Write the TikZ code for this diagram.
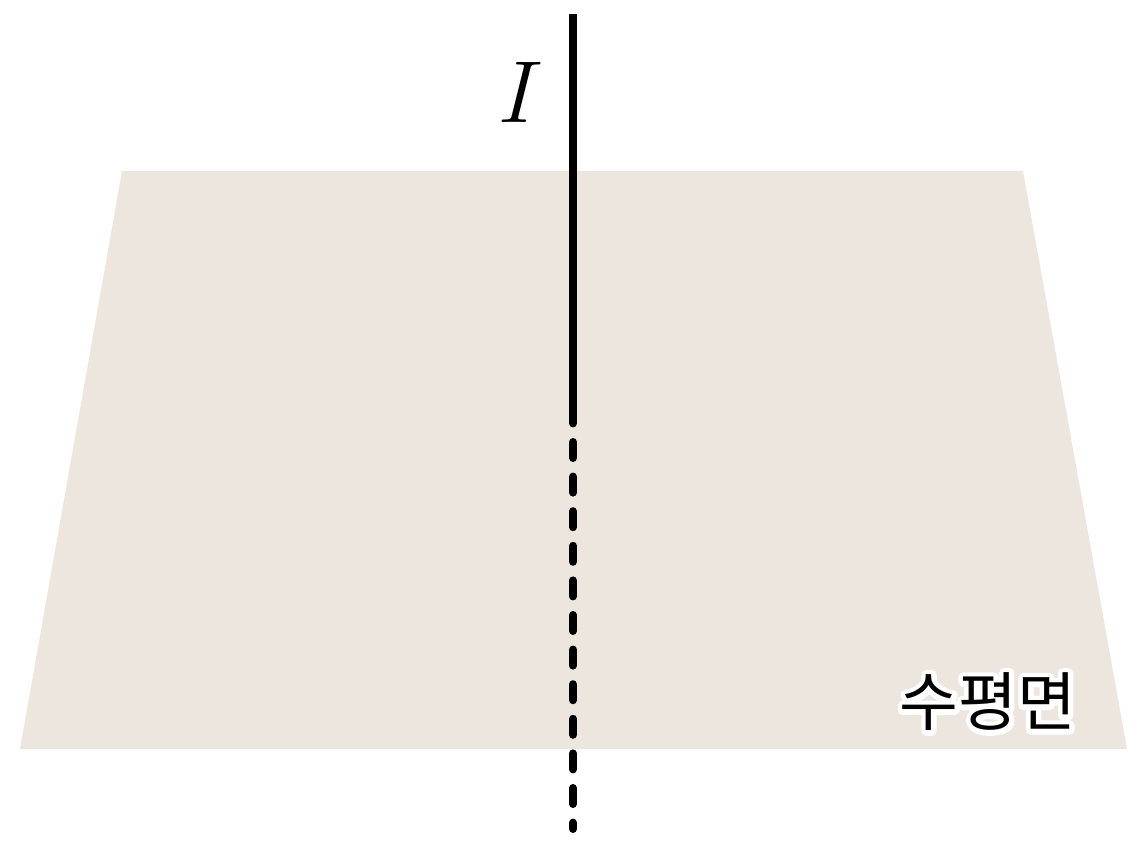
\RequirePackage{fix-cm}
\documentclass[tikz,border=0pt]{standalone}
\usepackage{fontspec}
\newfontfamily\krfont{Noto Sans CJK KR}
\definecolor{planecol}{HTML}{ECE6DF}
\newcommand{\halotext}[1]{\special{pdf:literal direct 1 Tr 5 w 1 j}#1\special{pdf:literal direct 0 Tr}}
\begin{document}
\begin{tikzpicture}[x=0.5pt,y=-0.5pt]
  \useasboundingbox (0,0) rectangle (1146,857);
  \coordinate (a) at (122,171);
  \coordinate (b) at (1023,171);
  \coordinate (c) at (1127,749);
  \coordinate (d) at (20,749);
  \coordinate (top) at (573,14);
  \coordinate (mid) at (573,413);
  \coordinate (bot) at (573,829);

  \fill[planecol] (a) -- (b) -- (c) -- (d) -- cycle;
  \draw[black,line width=4pt] (top) -- (mid);
  \draw[black,line width=4pt,line cap=round,dash pattern=on 8pt off 9.3pt,dash phase=2.8pt] (mid) -- (bot);

  \node (lab) at (521,92) {\fontsize{44}{44}\selectfont$I$};
  \node[text=white] (halo) at (988,702) {\krfont\fontsize{32}{32}\selectfont\halotext{수평면}};
  \node (plane) at (988,702) {\krfont\fontsize{32}{32}\selectfont 수평면};
\end{tikzpicture}
\end{document}
